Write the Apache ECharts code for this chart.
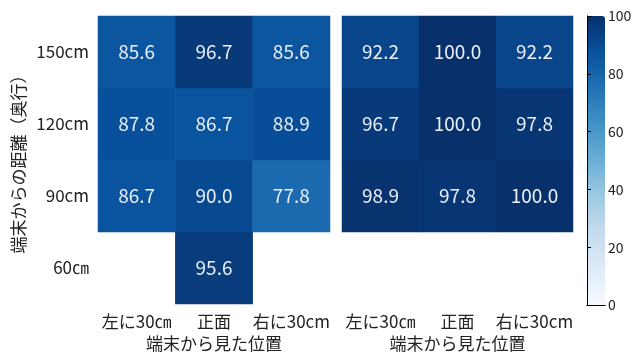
<!DOCTYPE html>
<html><head><meta charset="utf-8">
<script src="https://cdn.jsdelivr.net/npm/echarts@6/dist/echarts.min.js"></script>
<style>html,body{margin:0;padding:0;background:#fff}#c{width:635px;height:353px}</style>
</head><body><div id="c"></div>
<script>
const xCats = ['左に30㎝', '正面', '右に30cm'];
const yCats = ['60㎝', '90cm', '120cm', '150cm'];
// rows: 60, 90, 120, 150 ; cols: left, front, right (null = empty)
const leftVals = [
  [null, 95.6, null],
  [86.7, 90.0, 77.8],
  [87.8, 86.7, 88.9],
  [85.6, 96.7, 85.6]
];
const rightVals = [
  [null, null, null],
  [98.9, 97.8, 100.0],
  [96.7, 100.0, 97.8],
  [92.2, 100.0, 92.2]
];
const cbTicks = [0, 20, 40, 60, 80, 100];
const blues = ['#f7fbff','#deebf7','#c6dbef','#9ecae1','#6baed6','#4292c6','#2171b5','#08519c','#08306b'];

function toData(m){
  const out = [];
  m.forEach((row, yi) => row.forEach((v, xi) => { if (v !== null) out.push([xi, yi, v]); }));
  return out;
}
const FONT = '"Noto Sans CJK JP", "Noto Sans", sans-serif';
const lblStyle = {color:'#222', fontSize:17, fontFamily:FONT};

const chart = echarts.init(document.getElementById('c'));
chart.setOption({
  animation:false,
  textStyle:{fontFamily:FONT},
  grid:[
    {left:98, top:16, width:232, height:288, containLabel:false, outerBoundsMode:'none'},
    {left:342, top:16, width:231, height:288, containLabel:false, outerBoundsMode:'none'},
    {left:587, top:16, width:18, height:289, containLabel:false, outerBoundsMode:'none'}
  ],
  xAxis:[
    {type:'category', gridIndex:0, data:xCats, axisLine:{show:false}, axisTick:{show:false},
     axisLabel:{...lblStyle, margin:9, interval:0}, name:'端末から見た位置', nameLocation:'middle', nameGap:30,
     nameTextStyle:{...lblStyle}},
    {type:'category', gridIndex:1, data:xCats, axisLine:{show:false}, axisTick:{show:false},
     axisLabel:{...lblStyle, margin:9, interval:0}, name:'端末から見た位置', nameLocation:'middle', nameGap:30,
     nameTextStyle:{...lblStyle}},
    {type:'value', gridIndex:2, min:0, max:1, show:true, axisLabel:{show:false}, axisTick:{show:false},
     splitLine:{show:false}, axisLine:{show:true, lineStyle:{color:'#000', width:1}}, z:10},
    {type:'value', gridIndex:2, min:0, max:1, position:'top', show:true, axisLabel:{show:false}, axisTick:{show:false},
     splitLine:{show:false}, axisLine:{show:true, lineStyle:{color:'#000', width:1}}, z:10}
  ],
  yAxis:[
    {type:'category', gridIndex:0, data:yCats, axisLine:{show:false}, axisTick:{show:false},
     axisLabel:{...lblStyle, margin:9, interval:0}, name:'端末からの距離（奥行）', nameLocation:'middle', nameGap:71,
     nameRotate:90, nameTextStyle:{...lblStyle}},
    {type:'category', gridIndex:1, data:yCats, axisLine:{show:false}, axisTick:{show:false},
     axisLabel:{show:false}},
    {type:'value', gridIndex:2, min:0, max:100, interval:20, position:'right',
     axisLine:{show:true, lineStyle:{color:'#000', width:1}},
     axisTick:{show:true, length:4, lineStyle:{color:'#000'}},
     axisLabel:{color:'#222', fontSize:14, margin:3, fontFamily:FONT}, splitLine:{show:false}, z:10},
    {type:'value', gridIndex:2, min:0, max:100, position:'left',
     axisLine:{show:true, lineStyle:{color:'#000', width:1}}, axisTick:{show:false},
     axisLabel:{show:false}, splitLine:{show:false}, z:10}
  ],
  visualMap:{
    type:'continuous', min:0, max:100, seriesIndex:[0,1], calculable:false,
    inRange:{color:blues}, orient:'vertical', left:587, top:16, itemWidth:18, itemHeight:289,
    padding:0, text:null, showLabel:false
  },
  series:[
    {type:'heatmap', xAxisIndex:0, yAxisIndex:0, data:toData(leftVals),
     label:{show:true, color:'#e9eef5', fontSize:19, fontFamily:FONT, formatter:p=>p.value[2].toFixed(1)}},
    {type:'heatmap', xAxisIndex:1, yAxisIndex:1, data:toData(rightVals),
     label:{show:true, color:'#e9eef5', fontSize:19, fontFamily:FONT, formatter:p=>p.value[2].toFixed(1)}},
    {type:'line', xAxisIndex:2, yAxisIndex:2, data:[], silent:true}
  ]
});
</script></body></html>
